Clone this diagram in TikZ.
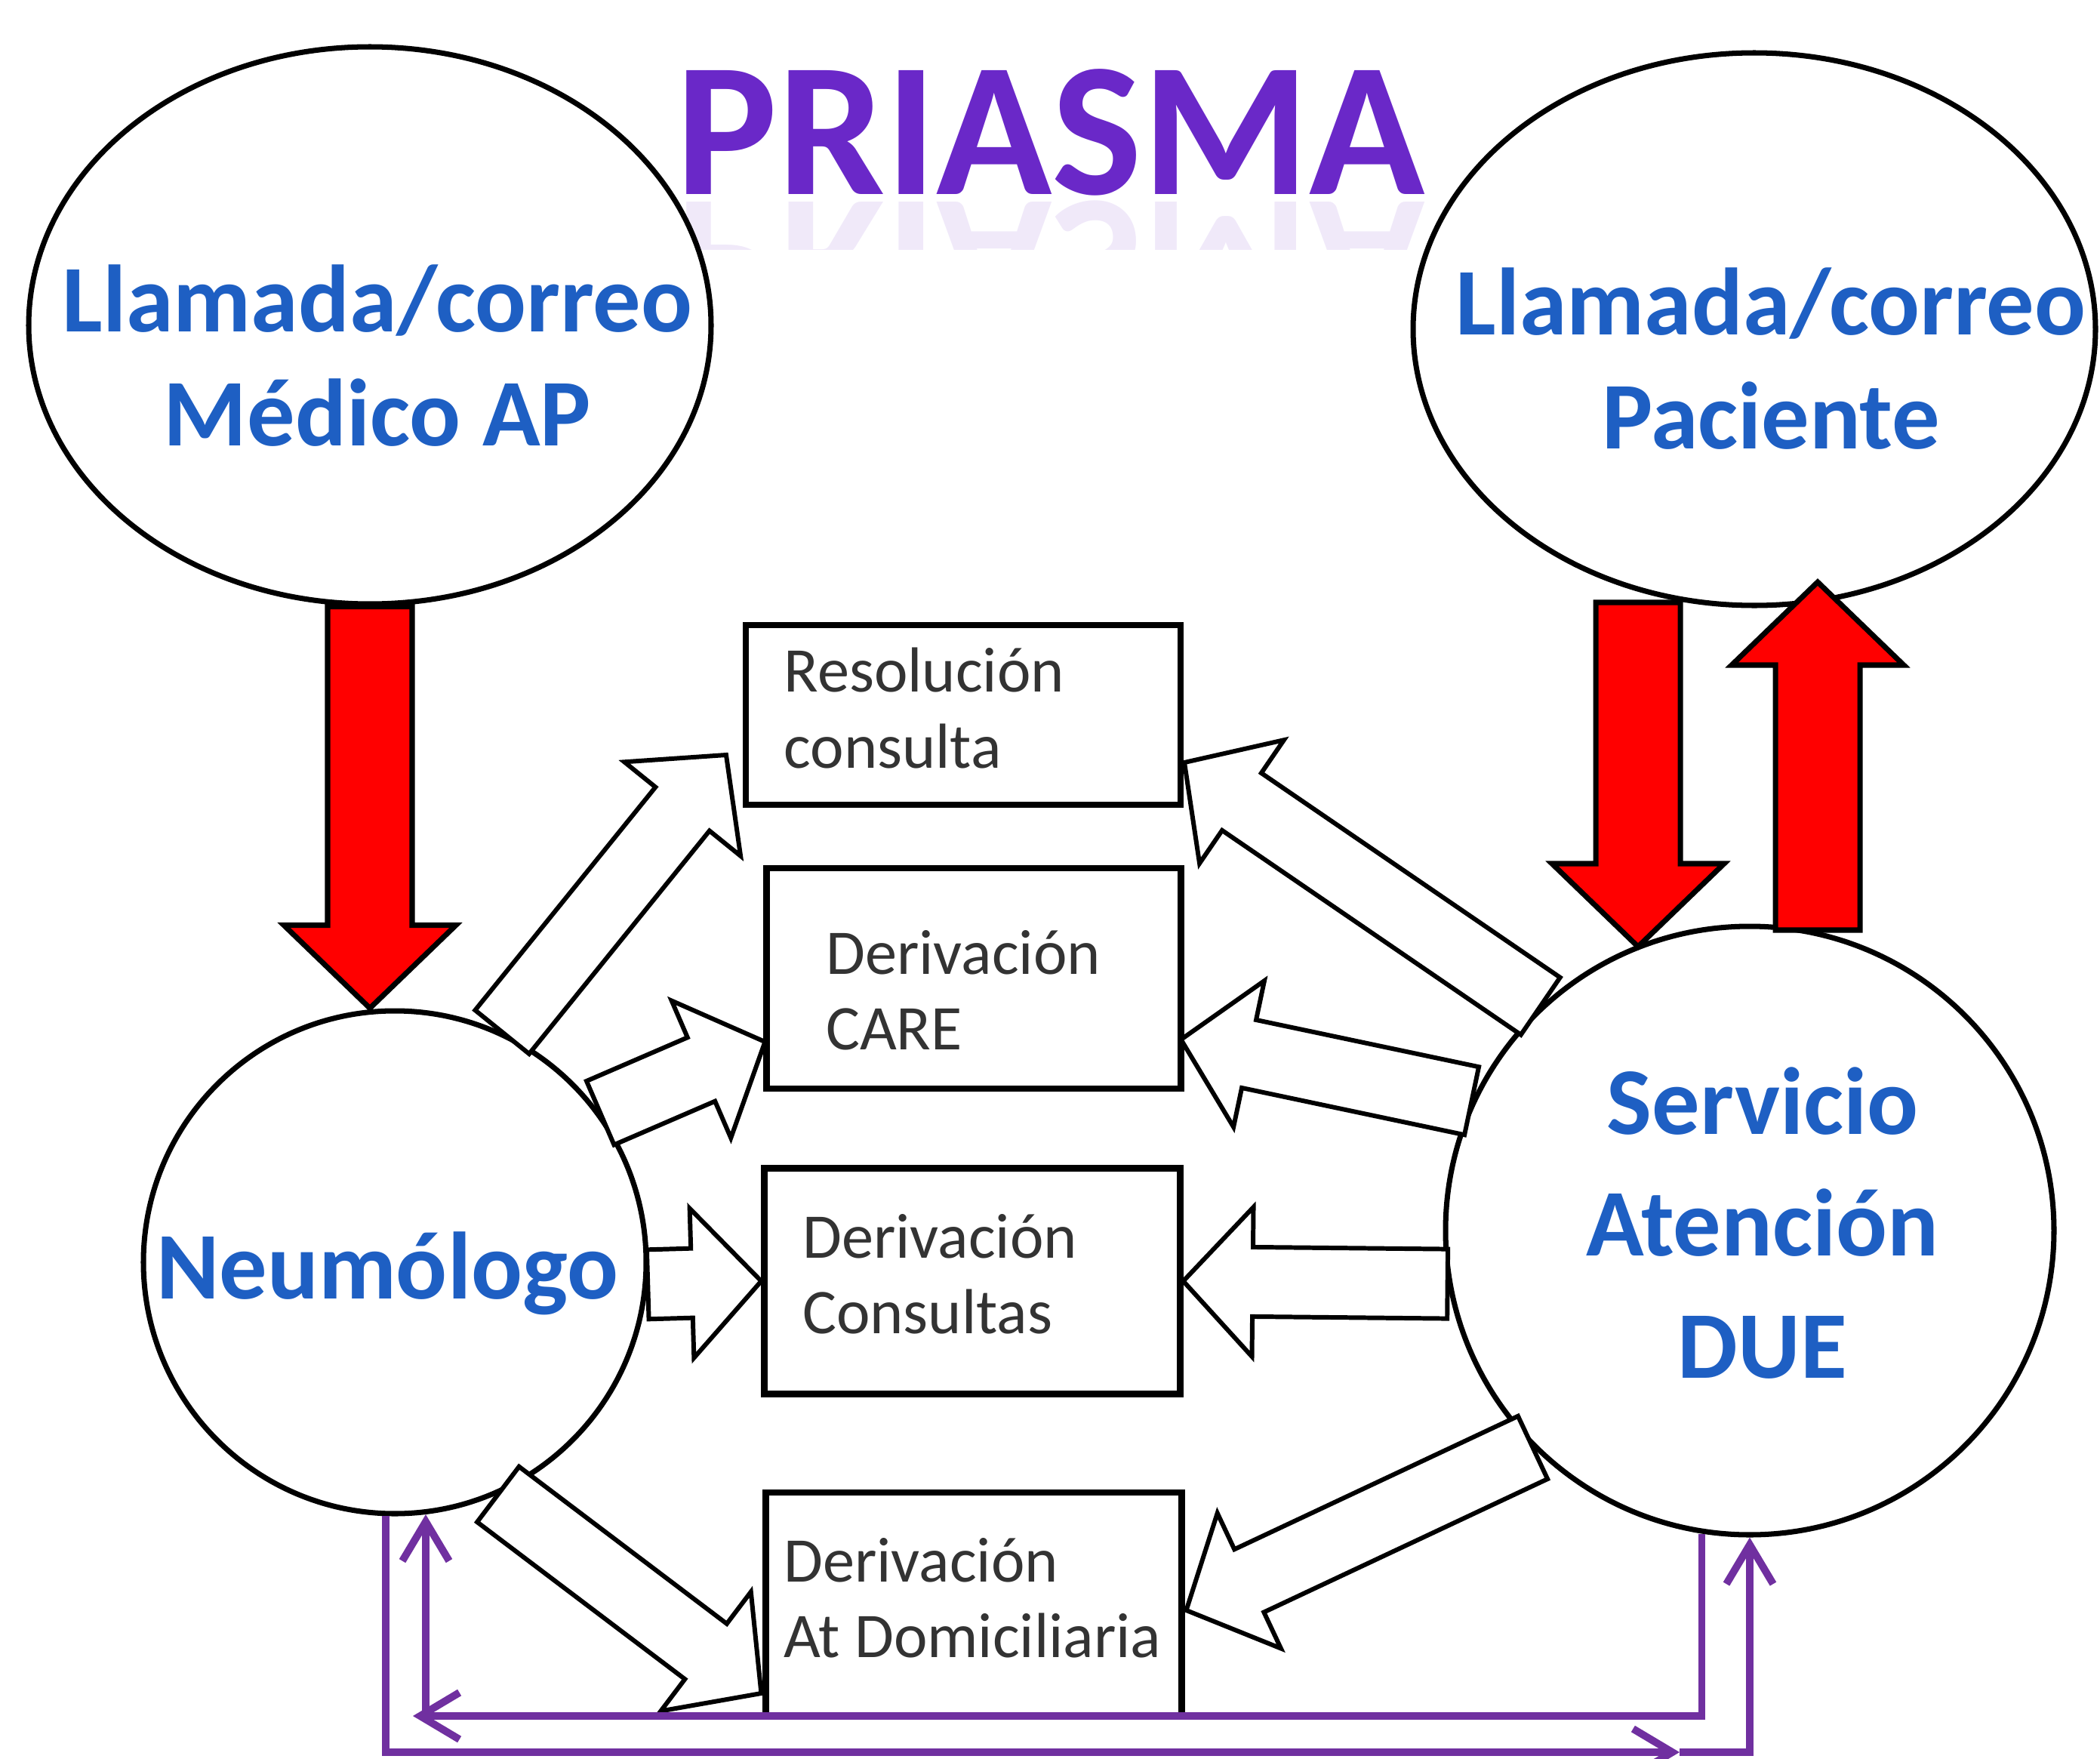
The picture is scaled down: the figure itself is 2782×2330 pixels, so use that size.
\documentclass[tikz,border=0pt]{standalone}
\usepackage{fontspec}
\setmainfont{Carlito}
\usepackage{tikz}
\usetikzlibrary{calc,shapes,arrows.meta}

\definecolor{azulT}{RGB}{30,95,195}
\definecolor{moradoT}{RGB}{106,40,200}
\definecolor{morado}{RGB}{112,48,160}

% flecha de bloque: estilo, desde, hasta, semiancho, semiancho punta, largo punta
\newcommand{\flecha}[6]{%
        \coordinate (fb) at ($(#3)!#6!(#2)$);
        \draw[#1] ($(#2)!#4!90:(#3)$) -- ($(fb)!#4!-90:(#2)$) -- ($(fb)!#5!-90:(#2)$) -- (#3)
            -- ($(fb)!#5!90:(#2)$) -- ($(fb)!#4!90:(#2)$) -- ($(#2)!#4!-90:(#3)$) -- cycle;}

\begin{document}
\begin{tikzpicture}[x=0.1mm,y=-0.1mm,
        burbuja/.style={draw,line width=2pt,fill=white,inner sep=0pt},
        caja/.style={draw,line width=2.3pt,fill=white,inner sep=0pt},
        azul/.style={text=azulT,font=\bfseries\fontsize{36}{43}\selectfont,align=center},
        gris/.style={text=black!80,font=\fontsize{24}{28.5}\selectfont,align=left,anchor=west,inner sep=0pt},
        blanca/.style={draw,fill=white,line width=1.7pt},
        roja/.style={draw,fill=red,line width=2pt},
        morada/.style={draw=morado,line width=2.8pt,-{Straight Barb[length=5.2mm,width=6.2mm]}}]
        \useasboundingbox (0,0) rectangle (2782,2330);

        \node[font=\bfseries\fontsize{72}{80}\selectfont,text=moradoT,anchor=base] (titulo) at (1392,257) {PRIASMA};
        \begin{scope}
            \clip (800,262) rectangle (2000,330);
            \node[font=\bfseries\fontsize{72}{80}\selectfont,text=moradoT,opacity=0.1,anchor=base,yscale=-1] (reflejo) at (1392,267) {PRIASMA};
        \end{scope}

        \node[burbuja,ellipse,minimum width=90.4mm,minimum height=73.8mm] (medico) at (490,431) {};
        \node[burbuja,ellipse,minimum width=90.4mm,minimum height=73.2mm] (paciente) at (2324,436) {};
        \node[burbuja,circle,minimum size=66.6mm] (neu) at (523,1672) {};
        \node[burbuja,circle,minimum size=80.6mm] (serv) at (2318,1630) {};

        \node[caja,minimum width=57.6mm,minimum height=23.8mm] (res) at (1276,947) {};
        \node[caja,minimum width=54.9mm,minimum height=29.2mm] (care) at (1290,1296) {};
        \node[caja,minimum width=55.1mm,minimum height=29.9mm] (cons) at (1288,1697) {};
        \node[caja,minimum width=55.1mm,minimum height=29.6mm] (dom) at (1290,2125) {};

        \node[azul] (medicotxt) at ($(medico)+(10,40)$) {Llamada/correo\\Médico AP};
        \node[azul] (pacientetxt) at ($(paciente)+(22,39)$) {Llamada/correo\\Paciente};
        \node[azul] (neutxt) at ($(neu)+(-10,15)$) {Neumólogo};
        \node[azul,font=\bfseries\fontsize{36}{46}\selectfont] (servtxt) at ($(serv)+(17,-10)$) {Servicio\\Atención\\DUE};

        \node[gris] (restxt) at ($(res.west)+(54,-9)$) {Resolución\\consulta};
        \node[gris] (caretxt) at ($(care.west)+(82,16)$) {Derivación\\CARE};
        \node[gris] (constxt) at ($(cons.west)+(54,-9)$) {Derivación\\Consultas};
        \node[gris] (domtxt) at ($(dom.west)+(27,-8)$) {Derivación\\At Domiciliaria};

        \coordinate (t1) at ($(res.west)+(-22,53)$);
        \coordinate (t2) at ($(care.west)+(2,84)$);
        \coordinate (t4) at ($(dom.west)+(-2,118)$);
        \coordinate (t5) at ($(res.east)+(1,63)$);
        \coordinate (t6) at ($(care.east)+(-4,81)$);
        \coordinate (t8) at ($(dom.east)+(2,8)$);
        \flecha{blanca}{neu.65}{t1}{4.6mm}{9.9mm}{9.2mm}
        \flecha{blanca}{neu.36}{t2}{4.6mm}{9.9mm}{9.2mm}
        \flecha{blanca}{neu.-5}{cons.west}{4.6mm}{9.9mm}{9.2mm}
        \flecha{blanca}{neu.-66}{t4}{4.6mm}{9.9mm}{9.2mm}
        \flecha{blanca}{serv.133}{t5}{4.6mm}{9.9mm}{9.2mm}
        \flecha{blanca}{serv.155}{t6}{4.6mm}{9.9mm}{9.2mm}
        \flecha{blanca}{serv.-170}{cons.east}{4.6mm}{9.9mm}{9.2mm}
        \flecha{blanca}{serv.-135}{t8}{4.6mm}{9.9mm}{9.2mm}

        \coordinate (r1) at (medico.south |- neu.north);
        \coordinate (r2a) at ($(paciente)+(-154,362)$);
        \coordinate (r2b) at ($(serv)+(-148,-376)$);
        \coordinate (r3a) at ($(serv)+(90,-398)$);
        \coordinate (r3b) at ($(paciente)+(84,335)$);
        \flecha{roja}{medico.south}{r1}{5.6mm}{11.4mm}{11mm}
        \flecha{roja}{r2a}{r2b}{5.6mm}{11.4mm}{11mm}
        \flecha{roja}{r3a}{r3b}{5.6mm}{11.4mm}{11mm}

        \coordinate (q1) at (2225,2321);
        \coordinate (q2) at (547,2273);
        \coordinate (q3) at (neu.-83 |- q2);
        \draw[morada] (neu.-92) |- (q1);
        \draw[morada] (q1) -| (serv.south);
        \draw[morada] (serv.-99) |- (q2);
        \draw[morada] (q3) -- (neu.-83);
\end{tikzpicture}
\end{document}
